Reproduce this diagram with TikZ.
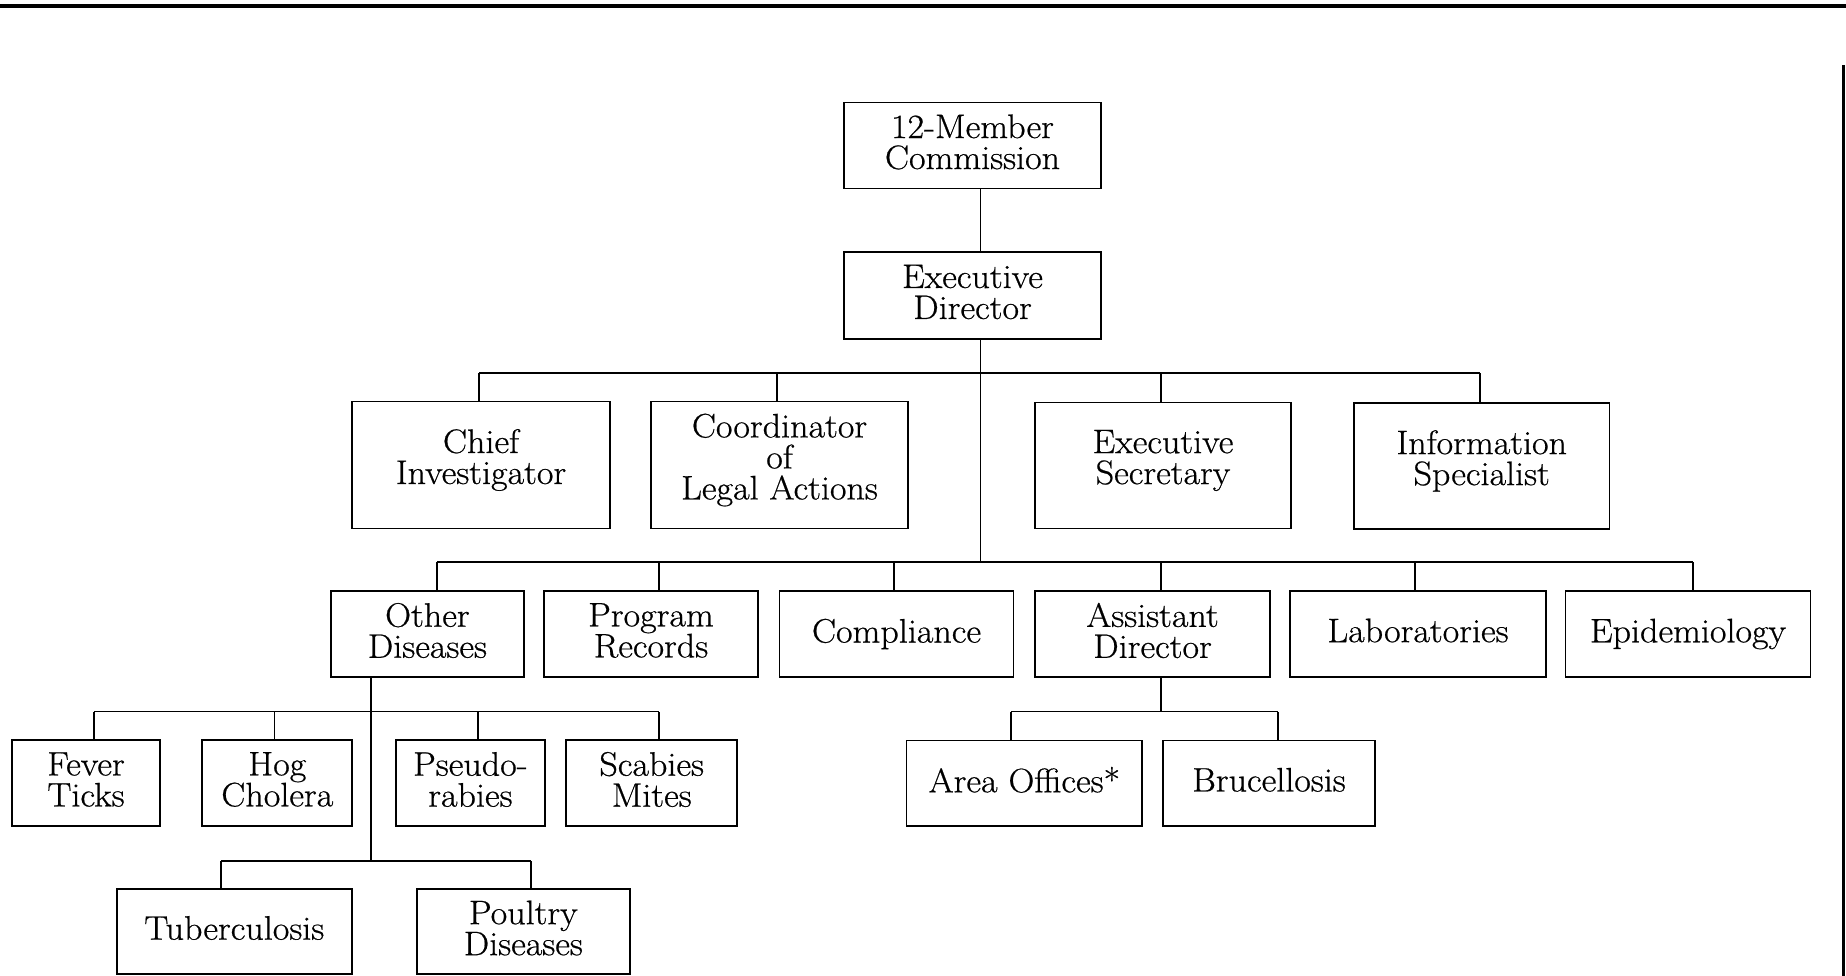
\documentclass[tikz,border=0pt]{standalone}
\usepackage{fontspec}
\setmainfont{Latin Modern Roman}[FakeStretch=1.06,FakeBold=0.6]
\newcommand\orgnode[7][]{\node[orgbox, minimum width=#5pt, minimum height=#6pt, label={[orgtext,#1]center:#7}] (#2) at (#3,#4) {};}
\newcommand\dropline[3]{\draw[conn] ([xshift=#2pt]#1.north) -- ([xshift=#2pt]#1.north |- #3);}
\begin{document}
\begin{tikzpicture}[x=1pt,y=-1pt,
  orgbox/.style={draw, line width=1.8pt, inner sep=0pt},
  orgtext/.style={font=\fontsize{34}{31}\selectfont, align=center, inner sep=0pt, yshift=3.5pt},
  tall/.style={yshift=1.5pt},
  low/.style={yshift=-3.5pt},
  conn/.style={line width=1.8pt},
  frameline/.style={line width=4.5pt}]
\useasboundingbox (0,0) rectangle (1846,976);
% frame fragments
\draw[frameline] (0,6) -- (1846,6);
\draw[line width=2.5pt] (1843.5,65) -- (1843.5,976);
% boxes
\orgnode{cm}{972.5}{145.5}{257}{86}{12-Member\\Commission}
\orgnode{ed}{972.5}{295.5}{257}{87}{Executive\\Director}
\orgnode[tall]{ci}{481}{465}{258}{127}{Chief\\Investigator}
\orgnode[tall]{cla}{779.5}{465}{257}{127}{Coordinator\\of\\Legal Actions}
\orgnode[tall]{es}{1163}{465.5}{256.5}{126}{Executive\\Secretary}
\orgnode[tall]{is}{1481.7}{466}{255.5}{126}{Information\\Specialist}
\orgnode{od}{427.4}{634}{193}{86}{Other\\Diseases}
\orgnode{pr}{651}{634}{214}{86}{Program\\Records}
\orgnode[low]{co}{896.5}{634}{234}{86}{Compliance}
\orgnode{ad}{1152.5}{634}{235.5}{86}{Assistant\\Director}
\orgnode{lab}{1418}{634}{255.5}{86}{Laboratories}
\orgnode[low]{epi}{1688}{634}{245}{86}{Epidemiology}
\orgnode{ft}{86}{783}{148}{86}{Fever\\Ticks}
\orgnode{hc}{277.3}{783}{150}{86}{Hog\\Cholera}
\orgnode{pra}{470.4}{783}{149.5}{86}{Pseudo-\\rabies}
\orgnode{sm}{651.7}{783}{170.7}{86}{Scabies\\Mites}
\orgnode{ao}{1024.4}{783.3}{235.8}{85.5}{Area Offices*}
\orgnode{br}{1269}{783.3}{212.6}{85.5}{Brucellosis}
\orgnode{tb}{234.3}{931.5}{235.4}{85}{Tuberculosis}
\orgnode{pd}{523.3}{931.5}{213}{85}{Poultry\\Diseases}
% bus levels
\coordinate (spine) at (980.5,0);
\coordinate (b2) at (0,373.2);
\coordinate (b3) at (0,561.6);
\coordinate (b4) at (0,711.5);
\coordinate (b5) at (0,860.6);
% main spine
\draw[conn] (cm.south -| spine) -- (ed.north -| spine);
\draw[conn] (ed.south -| spine) -- (spine |- b3);
% level 2
\draw[conn] ([xshift=-2pt]ci.north |- b2) -- ([xshift=-1.8pt]is.north |- b2);
\dropline{ci}{-2}{b2}
\dropline{cla}{-2.5}{b2}
\dropline{es}{-2.2}{b2}
\dropline{is}{-1.8}{b2}
% level 3
\draw[conn] ([xshift=9.4pt]od.north |- b3) -- ([xshift=5pt]epi.north |- b3);
\dropline{od}{9.4}{b3}
\dropline{pr}{8.3}{b3}
\dropline{co}{-2.9}{b3}
\dropline{ad}{8.3}{b3}
\dropline{lab}{-2.9}{b3}
\dropline{epi}{5}{b3}
% other diseases branch
\draw[conn] ([xshift=-56.6pt]od.south) -- ([xshift=-56.6pt]od.south |- b5);
\draw[conn] ([xshift=8.3pt]ft.north |- b4) -- ([xshift=7.6pt]sm.north |- b4);
\dropline{ft}{8.3}{b4}
\dropline{hc}{-2.8}{b4}
\dropline{pra}{7.6}{b4}
\dropline{sm}{7.6}{b4}
\draw[conn] ([xshift=-13pt]tb.north |- b5) -- ([xshift=7.7pt]pd.north |- b5);
\dropline{tb}{-13}{b5}
\dropline{pd}{7.7}{b5}
% assistant director branch
\draw[conn] ([xshift=8.3pt]ad.south) -- ([xshift=8.3pt]ad.south |- b4);
\draw[conn] ([xshift=-13.1pt]ao.north |- b4) -- ([xshift=8.7pt]br.north |- b4);
\dropline{ao}{-13.1}{b4}
\dropline{br}{8.7}{b4}
\end{tikzpicture}
\end{document}
